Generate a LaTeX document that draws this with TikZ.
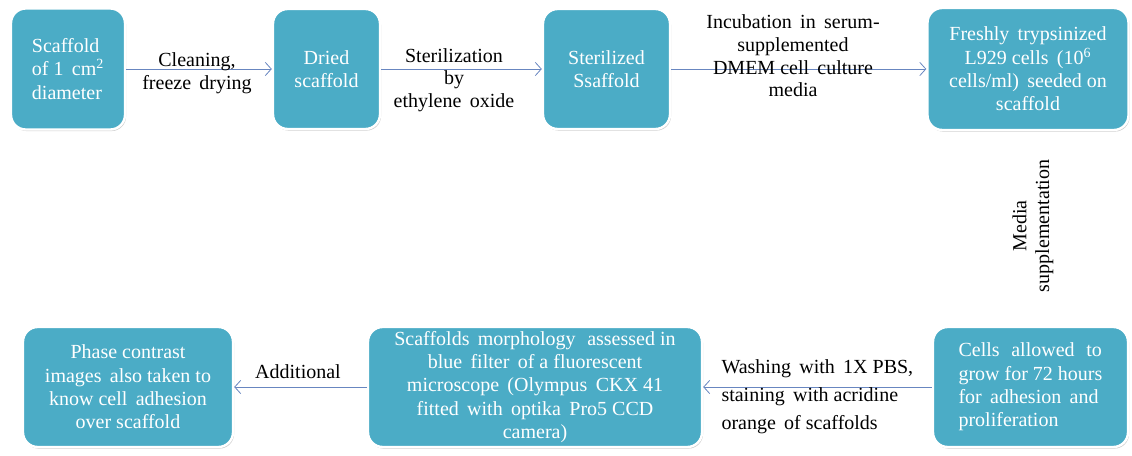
\documentclass[tikz,border=0pt]{standalone}
\usepackage{fontspec}
\setmainfont{Liberation Serif}
\usetikzlibrary{arrows.meta,shadows}

\definecolor{boxteal}{RGB}{75,172,198}
\definecolor{flowblue}{RGB}{104,134,192}

\tikzset{every picture/.style={line width=0.75pt}}
\tikzset{
  stepbox/.style={rounded corners=11pt, fill=boxteal, draw=white, line width=1.8pt,
    text=white, inner sep=0pt, align=center, font=\fontsize{15}{17.5}\selectfont,
    drop shadow={shadow xshift=0.8pt, shadow yshift=-1.2pt, opacity=0.4}},
  flow/.style={draw=flowblue, line width=0.6pt, -{Straight Barb[length=4.5pt,width=10pt]}},
  steplabel/.style={inner sep=0.75pt, align=center, font=\fontsize{15}{17}\selectfont}
}

\begin{document}
\begin{tikzpicture}[x=0.75pt,y=0.75pt,yscale=-1,xscale=1]
\useasboundingbox (0,0) rectangle (1132,456);

% Top row boxes
\node [stepbox, align=left, minimum width=85.5pt, minimum height=90.75pt] (scaf) at (68,69) {Scaffold\\of 1 \,cm\textsuperscript{2}\\diameter};
\node [stepbox, minimum width=80.25pt, minimum height=90pt] (dried) at (326.5,69) {Dried\\scaffold};
\node [stepbox, minimum width=95.25pt, minimum height=90pt] (steril) at (606.5,69) {Sterilized\\Ssaffold};
\node [stepbox, minimum width=150.75pt, minimum height=91.5pt] (seeded) at (1028,69) {Freshly \,trypsinized\\L929 cells \,(10\textsuperscript{6}\\cells/ml) \,seeded on\\scaffold};

% Bottom row boxes
\node [stepbox, minimum width=157.5pt, minimum height=90pt] (phase) at (128,387) {Phase contrast\\images \,also taken to\\know cell \,adhesion\\over scaffold};
\node [stepbox, minimum width=250.5pt, minimum height=90pt] (morph) at (535,387) {Scaffolds \,morphology \,\,assessed in\\blue \,filter \,of a fluorescent\\microscope \,(Olympus \,CKX 41\\fitted \,with \,optika \,Pro5 CCD\\camera)};
\node [stepbox, align=left, minimum width=146.25pt, minimum height=90pt] (grow) at (1030.5,387) {Cells \,\,allowed \,\,to\\grow for 72 hours\\for \,adhesion \,and\\proliferation};

% Connectors
\draw [flow] (scaf) -- (dried);
\draw [flow] (dried) -- (steril);
\draw [flow] (steril) -- (seeded);
\draw [flow] (grow) -- (morph);
\draw [flow] (morph) -- (phase);

% Text Node
\node [steplabel] (clean) at (197,73) {Cleaning,\\freeze \,drying};
% Text Node
\node [steplabel] (eto) at (454,80) {Sterilization\\by\\ethylene \,oxide};
% Text Node
\node [steplabel] (incub) at (793,56) {Incubation \,in \,serum-\\supplemented\\DMEM cell \,culture\\media};
% Text Node
\node [steplabel, rotate=90] (media) at (1033,226) {Media\\supplementation};
% Text Node
\node [steplabel, align=left, anchor=west, font=\fontsize{15}{21}\selectfont] (wash) at (720,397) {Washing \,with \,1X PBS,\\staining \,with acridine\\orange \,of scaffolds};
% Text Node
\node [steplabel] (addl) at (298,372) {Additional};

\end{tikzpicture}
\end{document}
